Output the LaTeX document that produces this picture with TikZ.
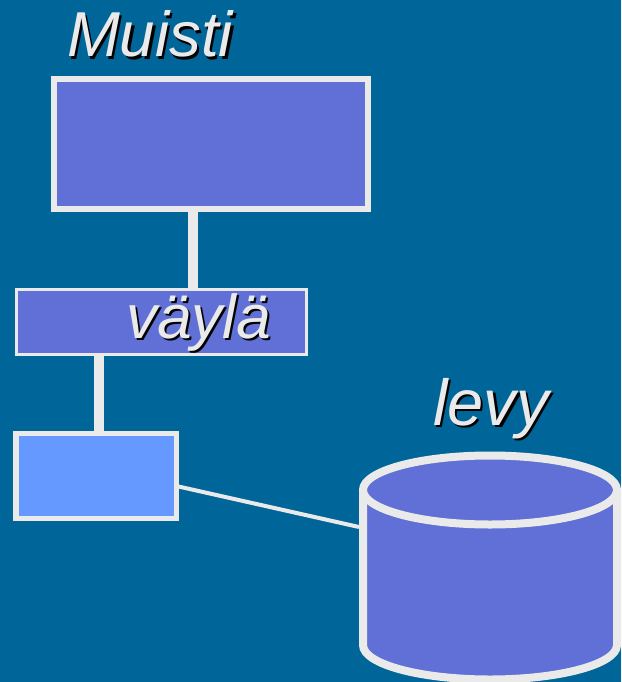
\documentclass[tikz,border=0pt]{standalone}
\usepackage{fontspec}
\setmainfont{Liberation Sans}
\usepackage{tikz}
\usetikzlibrary{calc,positioning}
\definecolor{slideBg}{RGB}{0,102,153}
\definecolor{boxFill}{RGB}{96,112,214}
\definecolor{ctrlFill}{RGB}{102,153,255}
\definecolor{edgeGray}{RGB}{234,234,234}

\newcommand\shadowed[1]{\makebox[0pt][l]{\hspace{2.5pt}\raisebox{-2.5pt}{\color{black}#1}}#1}

\begin{document}
\begin{tikzpicture}[x=1pt,y=-1pt,
    every node/.style={inner sep=0pt,outer sep=0pt},
    unitbox/.style={rectangle,draw=edgeGray,fill=boxFill},
    title/.style={anchor=base west,text=edgeGray,font=\fontsize{#1}{#1}\selectfont\itshape},
    link/.style={draw=edgeGray,line width=#1}]

      \def\cylX{490}
      \def\cylRx{127}
      \def\cylRy{34.5}
      \def\cylTop{490}
      \def\cylBot{645}

      % draw the slide
      \fill[slideBg] (0,0) rectangle (621,682);
      \useasboundingbox (0,0) rectangle (621,682);

      % draw the boxes
      \node[unitbox,line width=5.5pt,minimum width=314pt,minimum height=130pt] (muisti) at (211,144) {};
      \node[unitbox,line width=3pt,minimum width=290pt,minimum height=65pt] (vayla) at (161.5,322) {};
      \node[unitbox,fill=ctrlFill,line width=5.5pt,minimum width=160.5pt,minimum height=85pt] (ohjain) at (96,476) {};

      % draw the disk
      \filldraw[fill=boxFill,draw=edgeGray,line width=8pt]
      ({\cylX-\cylRx},\cylTop) -- ({\cylX-\cylRx},\cylBot) arc (180:0:{\cylRx} and {\cylRy}) -- ({\cylX+\cylRx},\cylTop);
      \filldraw[fill=boxFill,draw=edgeGray,line width=8pt] (\cylX,\cylTop) ellipse ({\cylRx} and {\cylRy});
      \coordinate (levy) at (359,527);

      % draw the links
      \draw[link=10pt] ([xshift=-18pt]muisti.south) -- ([xshift=-18pt]muisti.south |- vayla.north);
      \draw[link=10pt] ([xshift=-62.5pt]vayla.south) -- ([xshift=-62.5pt]vayla.south |- ohjain.north);
      \draw[link=4pt] ([yshift=-10pt]ohjain.east) -- (levy);

      % label the parts
      \node[title=63.5] (muistiText) at (67,57) {\shadowed{Muisti}};
      \node[title=62] (vaylaText) at (126,338) {\shadowed{väylä}};
      \node[title=65] (levyText) at (433,425) {\shadowed{levy}};

\end{tikzpicture}
\end{document}
